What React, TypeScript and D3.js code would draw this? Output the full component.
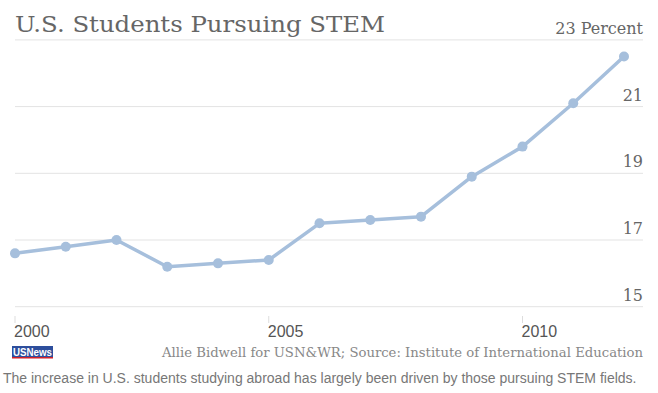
import * as d3 from 'd3';
import { useEffect, useRef } from 'react';

const years = [2000, 2001, 2002, 2003, 2004, 2005, 2006, 2007, 2008, 2009, 2010, 2011, 2012];
const stemShare = [16.6, 16.8, 17.0, 16.2, 16.3, 16.4, 17.5, 17.6, 17.7, 18.9, 19.8, 21.1, 22.5];
const yTicks = [15, 17, 19, 21, 23];
const xTicks = [2000, 2005, 2010];

export default function App() {
  const ref = useRef<SVGSVGElement | null>(null);

  useEffect(() => {
    if (!ref.current) return;
    const width = 658;
    const height = 393;
    const left = 15;
    const right = 643;

    const svg = d3.select(ref.current).attr('viewBox', `0 0 ${width} ${height}`);
    svg.selectAll('*').remove();

    const x = d3.scaleLinear().domain([2000, 2012]).range([left, 624]);
    const y = d3.scaleLinear().domain([15, 23]).range([306.7, 39.9]);

    /* ---------- grid + y labels ---------- */
    svg.selectAll('line.grid')
      .data(yTicks)
      .enter()
      .append('line')
      .attr('x1', left)
      .attr('x2', right)
      .attr('y1', (d) => y(d))
      .attr('y2', (d) => y(d))
      .attr('stroke', '#e3e3e3')
      .attr('stroke-width', 1);

    svg.selectAll('text.ylab')
      .data(yTicks)
      .enter()
      .append('text')
      .attr('x', right)
      .attr('y', (d) => y(d) - 6)
      .attr('text-anchor', 'end')
      .attr('font-family', 'DejaVu Serif')
      .attr('font-size', 16)
      .attr('fill', '#666')
      .text((d) => (d === 23 ? '23 Percent' : String(d)));

    /* ---------- title ---------- */
    svg.append('text')
      .attr('x', left)
      .attr('y', 32)
      .attr('font-family', 'DejaVu Serif')
      .attr('font-size', 23)
      .attr('fill', '#666')
      .attr('textLength', 370)
      .attr('lengthAdjust', 'spacingAndGlyphs')
      .text('U.S. Students Pursuing STEM');

    /* ---------- x axis ---------- */
    svg.selectAll('line.xtick')
      .data(xTicks)
      .enter()
      .append('line')
      .attr('x1', (d) => x(d))
      .attr('x2', (d) => x(d))
      .attr('y1', 316)
      .attr('y2', 323)
      .attr('stroke', '#ddd');

    svg.selectAll('text.xlab')
      .data(xTicks)
      .enter()
      .append('text')
      .attr('x', (d) => x(d) - 1)
      .attr('y', 337)
      .attr('font-family', 'Liberation Sans')
      .attr('font-size', 16)
      .attr('fill', '#555')
      .text((d) => String(d));

    /* ---------- line ---------- */
    const pts = years.map((yr, i) => [yr, stemShare[i]] as [number, number]);
    const line = d3.line<[number, number]>().x((d) => x(d[0])).y((d) => y(d[1]));

    svg.append('path')
      .datum(pts)
      .attr('d', line)
      .attr('fill', 'none')
      .attr('stroke', '#a6bfdc')
      .attr('stroke-width', 3.5)
      .attr('stroke-linejoin', 'round');

    svg.selectAll('circle')
      .data(pts)
      .enter()
      .append('circle')
      .attr('cx', (d) => x(d[0]))
      .attr('cy', (d) => y(d[1]))
      .attr('r', 5)
      .attr('fill', '#a6bfdc');

    /* ---------- footer ---------- */
    const logo = svg.append('g').attr('transform', 'translate(12,346)');
    logo.append('rect').attr('width', 41).attr('height', 11).attr('fill', '#2d4e9c');
    logo.append('rect').attr('y', 11).attr('width', 41).attr('height', 1.5).attr('fill', '#d2232a');
    logo.append('text')
      .attr('x', 1)
      .attr('y', 9.5)
      .attr('font-family', 'Liberation Sans')
      .attr('font-weight', 'bold')
      .attr('font-size', 11)
      .attr('fill', '#fff')
      .attr('textLength', 39)
      .attr('lengthAdjust', 'spacingAndGlyphs')
      .text('USNews');

    svg.append('text')
      .attr('x', right)
      .attr('y', 357)
      .attr('text-anchor', 'end')
      .attr('font-family', 'DejaVu Serif')
      .attr('font-size', 12)
      .attr('fill', '#888')
      .attr('textLength', 481)
      .attr('lengthAdjust', 'spacingAndGlyphs')
      .text('Allie Bidwell for USN&WR; Source: Institute of International Education');

    svg.append('text')
      .attr('x', 3)
      .attr('y', 383)
      .attr('font-family', 'Liberation Sans')
      .attr('font-size', 14)
      .attr('fill', '#777')
      .text('The increase in U.S. students studying abroad has largely been driven by those pursuing STEM fields.');
  }, []);

  return (
    <svg
      ref={ref}
      width={658}
      height={393}
      style={{ position: 'absolute', left: 0, top: 0, background: '#fff' }}
    />
  );
}
